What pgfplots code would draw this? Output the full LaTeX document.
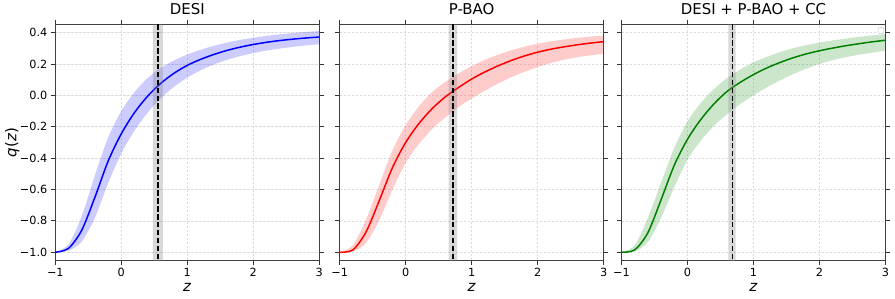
\documentclass[border=0pt]{standalone}
\usepackage{fontspec}
\setmainfont{DejaVu Sans}
\usepackage{pgfplots}
\pgfplotsset{compat=1.18}
\usepackage{pgfplotstable}
\usepgfplotslibrary{fillbetween}

\definecolor{mgreen}{RGB}{0,128,0}

\pgfplotstableread{
z c u l
-1.0 -1.000 -1.000 -1.000
-0.8 -0.975 -0.950 -0.990
-0.6 -0.860 -0.770 -0.932
-0.4 -0.650 -0.510 -0.780
-0.2 -0.420 -0.270 -0.560
0.0 -0.245 -0.100 -0.370
0.2 -0.110 0.020 -0.225
0.4 -0.005 0.110 -0.110
0.6 0.077 0.175 -0.018
0.8 0.141 0.222 0.055
1.0 0.191 0.260 0.113
1.2 0.229 0.290 0.159
1.4 0.260 0.315 0.196
1.6 0.286 0.336 0.226
1.8 0.307 0.353 0.250
2.0 0.324 0.367 0.269
2.2 0.338 0.379 0.285
2.4 0.349 0.389 0.298
2.6 0.358 0.397 0.309
2.8 0.3655 0.404 0.318
3.0 0.3715 0.410 0.325
}\tblDESI

\pgfplotstableread{
z c u l
-1.0 -1.000 -1.000 -1.000
-0.8 -0.985 -0.955 -0.995
-0.6 -0.870 -0.790 -0.940
-0.4 -0.670 -0.570 -0.795
-0.2 -0.460 -0.350 -0.600
0.0 -0.300 -0.190 -0.430
0.2 -0.180 -0.070 -0.310
0.4 -0.085 0.020 -0.215
0.6 -0.010 0.085 -0.140
0.8 0.050 0.140 -0.075
1.0 0.104 0.186 -0.020
1.2 0.149 0.226 0.030
1.4 0.188 0.259 0.075
1.6 0.222 0.287 0.115
1.8 0.251 0.310 0.150
2.0 0.275 0.329 0.180
2.2 0.294 0.344 0.206
2.4 0.309 0.356 0.227
2.6 0.322 0.366 0.243
2.8 0.333 0.374 0.255
3.0 0.342 0.381 0.264
}\tblPBAO

\pgfplotstableread{
z c u l
-1.0 -1.000 -1.000 -1.000
-0.8 -0.985 -0.955 -0.995
-0.6 -0.875 -0.780 -0.935
-0.4 -0.665 -0.555 -0.780
-0.2 -0.445 -0.335 -0.585
0.0 -0.280 -0.165 -0.410
0.2 -0.155 -0.050 -0.290
0.4 -0.055 0.040 -0.195
0.6 0.025 0.110 -0.120
0.8 0.083 0.165 -0.055
1.0 0.132 0.210 0.000
1.2 0.174 0.245 0.050
1.4 0.209 0.275 0.095
1.6 0.239 0.300 0.135
1.8 0.264 0.320 0.170
2.0 0.284 0.336 0.200
2.2 0.301 0.350 0.224
2.4 0.316 0.362 0.243
2.6 0.329 0.373 0.259
2.8 0.341 0.382 0.272
3.0 0.351 0.390 0.284
}\tblALL

\pgfplotsset{
  qpanel/.style={
    scale only axis, width=264bp, height=236bp,
    anchor=south west,
    xmin=-1, xmax=3, ymin=-1.052, ymax=0.452,
    xtick={-1,0,1,2,3}, xticklabels={−1,0,1,2,3},
    ytick={-1,-0.8,-0.6,-0.4,-0.2,0,0.2,0.4},
    tick align=outside, major tick length=4.5bp,
    tick style={black!80, line width=0.8bp},
    axis line style={black!75, line width=0.8bp},
    grid=major,
    grid style={gray!28, line width=0.6bp, dash pattern=on 2.6bp off 1.4bp},
    ticklabel style={font=\fontsize{11.3}{12}\selectfont},
    title style={font=\fontsize{15}{16}\selectfont, at={(axis description cs:0.5,1.017)}, anchor=base},
    xlabel={\textit{z}},
    xlabel style={font=\fontsize{15}{16}\selectfont, at={(axis description cs:0.5,-0.13)}, anchor=base},
    ylabel style={font=\fontsize{15}{16}\selectfont},
  },
}

\begin{document}
\begin{tikzpicture}

% ---------- DESI ----------
\begin{axis}[qpanel, at={(55.3bp,38.3bp)}, title={DESI},
  yticklabels={−1.0,−0.8,−0.6,−0.4,−0.2,0.0,0.2,0.4},
  ylabel={\textit{q}(\textit{z})},
  ylabel style={at={(axis description cs:-0.163,0.5)}, anchor=center}]
  \addplot[name path=U1, draw=none, smooth] table[x=z,y=u]{\tblDESI};
  \addplot[name path=L1, draw=none, smooth] table[x=z,y=l]{\tblDESI};
  \addplot[blue, fill opacity=0.2, draw=none] fill between[of=U1 and L1];
  \addplot[blue, line width=1.5bp, smooth] table[x=z,y=c]{\tblDESI};
  \addplot[fill=gray, fill opacity=0.3, draw=none] coordinates {(0.48,-2) (0.48,2) (0.63,2) (0.63,-2) (0.48,-2)};
  \addplot[black, line width=1.5bp, dash pattern=on 5.5bp off 2.4bp] coordinates {(0.556,-2) (0.556,2)};
\end{axis}

% ---------- P-BAO ----------
\begin{axis}[qpanel, at={(339.7bp,38.3bp)}, title={P-BAO}, yticklabels={}]
  \addplot[name path=U2, draw=none, smooth] table[x=z,y=u]{\tblPBAO};
  \addplot[name path=L2, draw=none, smooth] table[x=z,y=l]{\tblPBAO};
  \addplot[red, fill opacity=0.2, draw=none] fill between[of=U2 and L2];
  \addplot[red, line width=1.5bp, smooth] table[x=z,y=c]{\tblPBAO};
  \addplot[fill=gray, fill opacity=0.3, draw=none] coordinates {(0.65,-2) (0.65,2) (0.78,2) (0.78,-2) (0.65,-2)};
  \addplot[black, line width=1.5bp, dash pattern=on 5.5bp off 2.4bp] coordinates {(0.715,-2) (0.715,2)};
\end{axis}

% ---------- DESI + P-BAO + CC ----------
\begin{axis}[qpanel, at={(621.5bp,38.3bp)}, title={DESI + P-BAO + CC}, yticklabels={}]
  \addplot[name path=U3, draw=none, smooth] table[x=z,y=u]{\tblALL};
  \addplot[name path=L3, draw=none, smooth] table[x=z,y=l]{\tblALL};
  \addplot[mgreen, fill opacity=0.2, draw=none] fill between[of=U3 and L3];
  \addplot[mgreen, line width=1.5bp, smooth] table[x=z,y=c]{\tblALL};
  \addplot[fill=gray, fill opacity=0.3, draw=none] coordinates {(0.62,-2) (0.62,2) (0.73,2) (0.73,-2) (0.62,-2)};
  \addplot[black, line width=1.5bp, dash pattern=on 5.5bp off 2.4bp] coordinates {(0.68,-2) (0.68,2)};
  \draw[black!20, fill=white, line width=0.6bp, rounded corners=1bp] (rel axis cs:0.972,0.961) rectangle (rel axis cs:0.994,0.986);
\end{axis}

\path (0,0) rectangle (895bp,295bp);
\end{tikzpicture}
\end{document}
